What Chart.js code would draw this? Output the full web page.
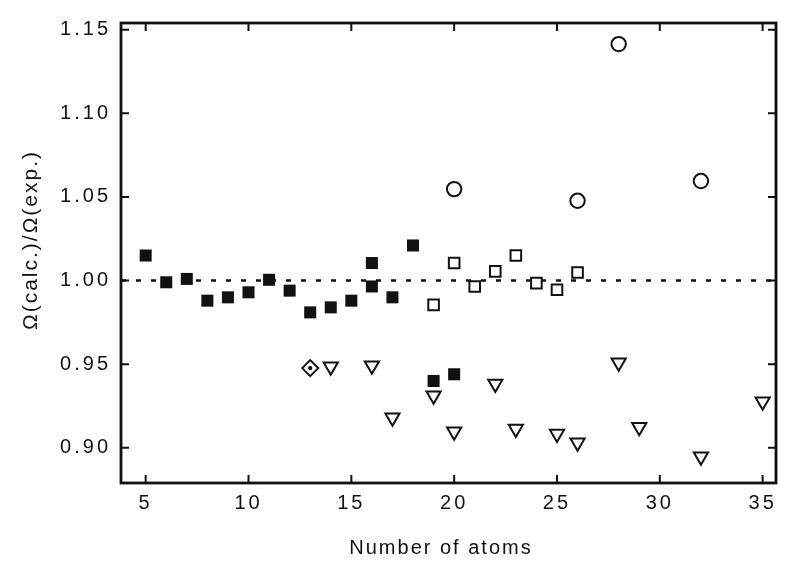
<!DOCTYPE html>
<html>
<head>
<meta charset="utf-8">
<script src="https://cdn.jsdelivr.net/npm/chart.js@4.4.1/dist/chart.umd.min.js"></script>
<style>
  html, body { margin: 0; padding: 0; background: #fff; }
  #wrap { width: 793px; height: 572px; }
</style>
</head>
<body>
<div id="wrap"><canvas id="c" width="793" height="572"></canvas></div>
<script>
// tick labels
var xTicks = [5, 10, 15, 20, 25, 30, 35];
var yTicks = [0.90, 0.95, 1.00, 1.05, 1.10, 1.15];
var xMin = 3.8, xMax = 35.65, yMin = 0.879, yMax = 1.154;

// filled squares
var filledX = [5, 6, 7, 8, 9, 10, 11, 12, 13, 14, 15, 16, 16, 17, 18, 19, 20];
var filledY = [1.015, 0.999, 1.001, 0.988, 0.990, 0.993, 1.0005, 0.994, 0.981, 0.984, 0.988, 1.0105, 0.9965, 0.990, 1.021, 0.940, 0.944];

// open squares
var openSqX = [19, 20, 21, 22, 23, 24, 25, 26];
var openSqY = [0.9855, 1.0105, 0.9965, 1.0055, 1.015, 0.9985, 0.9945, 1.0048];

// open circles
var circX = [20, 26, 28, 32];
var circY = [1.0547, 1.0477, 1.1414, 1.0595];

// down triangles
var triX = [14, 16, 17, 19, 20, 22, 23, 25, 26, 28, 29, 32, 35];
var triY = [0.9486, 0.9492, 0.9181, 0.9313, 0.9098, 0.9383, 0.9114, 0.9084, 0.9032, 0.951, 0.9124, 0.8948, 0.9277];

// diamond with dot
var diaX = [13];
var diaY = [0.9477];

var refY = 1.00;
var xTitle = 'Number of atoms';
var yTitle = 'Ω(calc.)/Ω(exp.)';

function pts(xs, ys) {
    var out = [];
    for (var i = 0; i < xs.length; i++) out.push({x: xs[i], y: ys[i]});
    return out;
}

var ink = '#111';
var fam = 'Liberation Sans, Arial, sans-serif';

// wide lettering like the scanned figure (tick labels)
var spacingPlugin = {
    id: 'spacing',
    beforeDraw: function(chart) { chart.ctx.letterSpacing = '3px'; },
    afterDraw: function(chart) { chart.ctx.letterSpacing = '0px'; }
};

// frame, inward ticks on all four sides, axis titles
var framePlugin = {
    id: 'frame',
    afterDatasetsDraw: function(chart) {
        var ctx = chart.ctx, a = chart.chartArea;
        var xs = chart.scales.x, ys = chart.scales.y;
        var tl = 8;
        ctx.save();
        ctx.strokeStyle = ink;
        ctx.lineWidth = 2;
        for (var i = 0; i < xTicks.length; i++) {
            var px = xs.getPixelForValue(xTicks[i]);
            ctx.beginPath();
            ctx.moveTo(px, a.bottom); ctx.lineTo(px, a.bottom - tl);
            ctx.moveTo(px, a.top); ctx.lineTo(px, a.top + tl);
            ctx.stroke();
        }
        for (var j = 0; j < yTicks.length; j++) {
            var py = ys.getPixelForValue(yTicks[j]);
            ctx.beginPath();
            ctx.moveTo(a.left, py); ctx.lineTo(a.left + tl, py);
            ctx.moveTo(a.right, py); ctx.lineTo(a.right - tl, py);
            ctx.stroke();
        }
        ctx.lineWidth = 2.8;
        ctx.strokeRect(a.left, a.top, a.right - a.left, a.bottom - a.top);

        ctx.fillStyle = ink;
        ctx.letterSpacing = '2px';
        ctx.textAlign = 'center';
        ctx.textBaseline = 'middle';

        // x title, slightly left of centre as in the original
        ctx.font = '20px ' + fam;
        ctx.fillText(xTitle, 441, 548);

        // y title, a bit above the middle
        ctx.translate(31, 240);
        ctx.rotate(-Math.PI / 2);
        ctx.font = '21px ' + fam;
        ctx.fillText(yTitle, 0, 0);
        ctx.restore();
    }
};

var ctx = document.getElementById('c').getContext('2d');
var myChart = new Chart(ctx, {
    type: 'scatter',
    data: {
        datasets: [
            {
                type: 'line',
                data: [{x: xMin, y: refY}, {x: xMax, y: refY}],
                borderColor: ink,
                borderWidth: 2.5,
                borderDash: [5, 10],
                pointRadius: 0,
                fill: false,
                order: 10
            },
            {
                data: pts(filledX, filledY),
                pointStyle: 'rect',
                pointRadius: 8.5,
                backgroundColor: ink,
                borderColor: ink,
                borderWidth: 0,
                order: 1
            },
            {
                data: pts(openSqX, openSqY),
                pointStyle: 'rect',
                pointRadius: 7.5,
                backgroundColor: '#fff',
                borderColor: ink,
                borderWidth: 2,
                order: 2
            },
            {
                data: pts(circX, circY),
                pointStyle: 'circle',
                pointRadius: 7.2,
                backgroundColor: '#fff',
                borderColor: ink,
                borderWidth: 2,
                order: 3
            },
            {
                data: pts(triX, triY),
                pointStyle: 'triangle',
                pointRotation: 180,
                pointRadius: 8.2,
                backgroundColor: '#fff',
                borderColor: ink,
                borderWidth: 2,
                order: 4
            },
            {
                data: pts(diaX, diaY),
                pointStyle: 'rectRot',
                pointRadius: 8,
                backgroundColor: '#fff',
                borderColor: ink,
                borderWidth: 2,
                order: 5
            },
            {
                data: pts(diaX, diaY),
                pointStyle: 'circle',
                pointRadius: 2.2,
                backgroundColor: ink,
                borderWidth: 0,
                order: 0
            }
        ]
    },
    options: {
        responsive: false,
        animation: false,
        layout: { padding: { left: 0, top: 23, right: 17, bottom: 0 } },
        plugins: {
            legend: { display: false },
            tooltip: { enabled: false }
        },
        scales: {
            x: {
                type: 'linear',
                min: xMin,
                max: xMax,
                afterBuildTicks: function(s) { s.ticks = xTicks.map(function(v) { return {value: v}; }); },
                afterFit: function(s) { s.height = 89; },
                grid: { display: false, drawTicks: false },
                border: { display: false },
                ticks: {
                    color: ink,
                    padding: 8,
                    maxRotation: 0,
                    font: { family: fam, size: 20 }
                },
                title: { display: false }
            },
            y: {
                type: 'linear',
                min: yMin,
                max: yMax,
                afterBuildTicks: function(s) { s.ticks = yTicks.map(function(v) { return {value: v}; }); },
                afterFit: function(s) { s.width = 121; },
                grid: { display: false, drawTicks: false },
                border: { display: false },
                ticks: {
                    color: ink,
                    padding: 10,
                    font: { family: fam, size: 20 },
                    callback: function(v) { return Number(v).toFixed(2); }
                },
                title: { display: false }
            }
        }
    },
    plugins: [spacingPlugin, framePlugin]
});
</script>
</body>
</html>
